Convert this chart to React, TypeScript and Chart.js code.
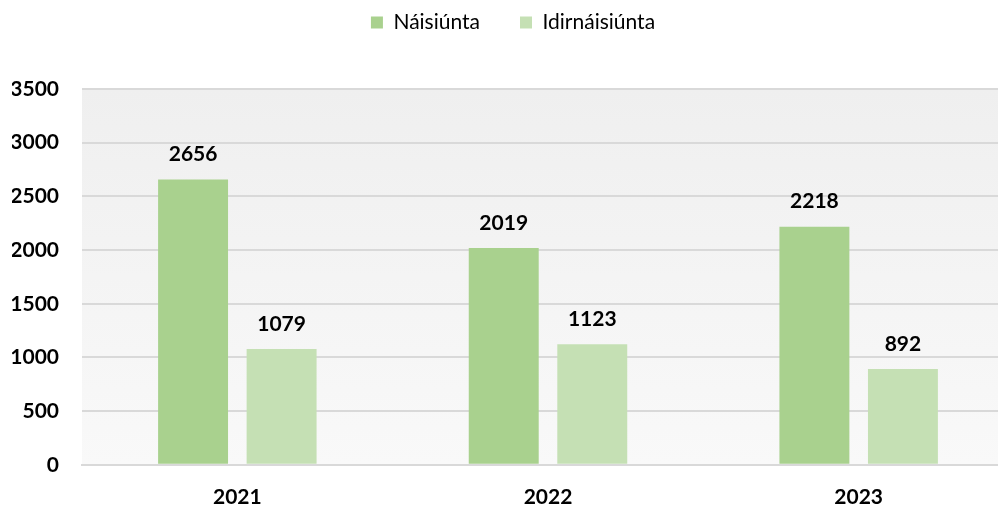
import React, { useEffect, useRef } from "react";
import { Chart, registerables } from "chart.js";

Chart.register(...registerables);

const categories = ["2021", "2022", "2023"];
const nationalValues = [2656, 2019, 2218];
const internationalValues = [1079, 1123, 892];
const seriesNames = ["Náisiúnta", "Idirnáisiúnta"];
const yTicks = [0, 500, 1000, 1500, 2000, 2500, 3000, 3500];

const FONT = "Lato, 'Open Sans', sans-serif";

const bgPlugin = {
  id: "plotBg",
  beforeDraw(chart: any) {
    const { ctx, chartArea } = chart;
    if (!chartArea) return;
    const g = ctx.createLinearGradient(0, chartArea.top, 0, chartArea.bottom);
    g.addColorStop(0, "#efefef");
    g.addColorStop(1, "#f9f9f9");
    ctx.save();
    ctx.fillStyle = g;
    ctx.fillRect(chartArea.left, chartArea.top, chartArea.right - chartArea.left, chartArea.bottom - chartArea.top);
    ctx.restore();
  },
};

const LEGEND_PAD = 40;
const LEGEND_SHIFT = 30;
const legendSpacer = {
  id: "legendSpacer",
  beforeInit(chart: any) {
    const legend = chart.legend;
    if (!legend) return;
    const orig = legend.fit;
    legend.fit = function () {
      orig.call(this);
      this.height += 16;
    };
  },
  beforeDraw(chart: any) {
    const legend = chart.legend;
    if (!legend) return;
    legend.top -= LEGEND_SHIFT;
  },
  afterDraw(chart: any) {
    const legend = chart.legend;
    if (!legend) return;
    legend.top += LEGEND_SHIFT;
  },
};

const valueLabels = {
  id: "valueLabels",
  afterDatasetsDraw(chart: any) {
    const { ctx } = chart;
    ctx.save();
    ctx.font = `bold 21px ${FONT}`;
    ctx.fillStyle = "#000000";
    ctx.textAlign = "center";
    ctx.textBaseline = "middle";
    chart.data.datasets.forEach((ds: any, i: number) => {
      const meta = chart.getDatasetMeta(i);
      meta.data.forEach((bar: any, j: number) => {
        ctx.fillText(String(ds.data[j]), bar.x, bar.y - 25);
      });
    });
    ctx.restore();
  },
};

export default function App() {
  const ref = useRef<HTMLCanvasElement>(null);

  useEffect(() => {
    document.body.style.margin = "0";
    document.body.style.overflow = "hidden";
    const canvas = ref.current;
    if (!canvas) return;
    const chart = new Chart(canvas, {
      type: "bar",
      data: {
        labels: categories,
        datasets: [
          {
            label: seriesNames[0],
            data: nationalValues,
            backgroundColor: "#a9d18e",
            categoryPercentage: 0.57,
            barPercentage: 0.79,
          },
          {
            label: seriesNames[1],
            data: internationalValues,
            backgroundColor: "#c5e0b4",
            categoryPercentage: 0.57,
            barPercentage: 0.79,
          },
        ],
      },
      options: {
        responsive: false,
        animation: false,
        devicePixelRatio: 1,
        layout: { padding: { top: 2, left: 12, right: 0, bottom: 0 } },
        plugins: {
          legend: {
            position: "top",
            align: "center",
            labels: {
              boxWidth: 12,
              boxHeight: 12,
              padding: LEGEND_PAD,
              color: "#000000",
              font: { family: FONT, size: 21 },
            },
          },
          tooltip: { enabled: false },
          title: { display: false },
        },
        scales: {
          x: {
            grid: { display: false, drawTicks: false },
            border: { display: true, color: "#d9d9d9", width: 2 },
            ticks: {
              padding: 20,
              color: "#000000",
              font: { family: FONT, size: 21, weight: "bold" },
            },
          },
          y: {
            min: 0,
            max: 3500,
            afterBuildTicks(scale: any) {
              scale.ticks = yTicks.map((v) => ({ value: v }));
            },
            afterFit(scale: any) {
              scale.width = 70;
            },
            grid: { color: "#d9d9d9", lineWidth: 2, drawTicks: false },
            border: { display: false },
            ticks: {
              padding: 23,
              color: "#000000",
              font: { family: FONT, size: 21, weight: "bold" },
              callback: (v: any) => String(v),
            },
          },
        },
      },
      plugins: [bgPlugin, legendSpacer, valueLabels],
    } as any);
    return () => chart.destroy();
  }, []);

  return (
    <div style={{ position: "fixed", left: 0, top: 0, width: 998, height: 505, overflow: "hidden", background: "#ffffff" }}>
      <canvas ref={ref} width={1014} height={530} style={{ display: "block" }} />
    </div>
  );
}
